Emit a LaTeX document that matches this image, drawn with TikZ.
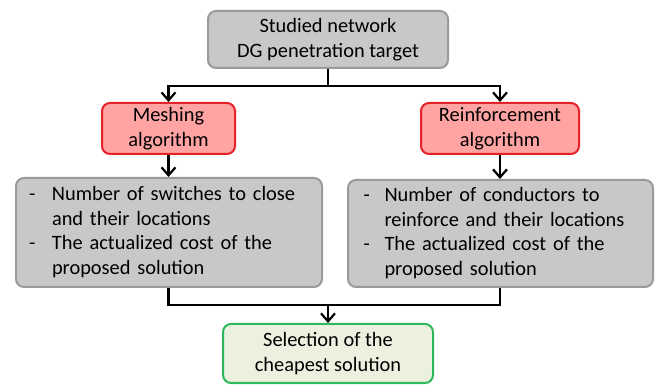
\documentclass[tikz,border=0pt]{standalone}
\usepackage{fontspec}
\setmainfont{Carlito}
\usetikzlibrary{arrows.meta}

\definecolor{boxgray}{HTML}{C8C8C8}
\definecolor{edgegray}{HTML}{9A9A9A}
\definecolor{algfill}{HTML}{FFA3A3}
\definecolor{algedge}{HTML}{E62229}
\definecolor{selfill}{HTML}{EBF1DE}
\definecolor{seledge}{HTML}{2EB85C}

\begin{document}
\begin{tikzpicture}[x=0.5pt, y=0.5pt,
  box/.style={draw, rounded corners=4pt, line width=1pt, inner sep=0pt,
    font=\fontsize{10.2}{12.4}\selectfont, align=center},
  graybox/.style={box, draw=edgegray, fill=boxgray},
  algbox/.style={box, draw=algedge, fill=algfill},
  selbox/.style={box, draw=seledge, fill=selfill},
  conn/.style={line width=1.3pt},
  arr/.style={conn, -{Straight Barb[length=4pt, width=7pt, line width=1.1pt]}}]

\useasboundingbox (0,0) rectangle (656,384);

% Input
\node[graybox, minimum width=120pt, minimum height=28.5pt] (input) at (328,344.5)
  {Studied network\\DG penetration target};

% Algorithms
\node[algbox, minimum width=66.5pt, minimum height=25.5pt] (mesh) at (168.5,255.5)
  {Meshing\\algorithm};
\node[algbox, minimum width=79pt, minimum height=25.5pt] (reinf) at (500,255.5)
  {Reinforcement\\algorithm};

% Results
\node[graybox, minimum width=153pt, minimum height=54.5pt, text width=140pt, align=left] (meshres) at (169,151.5)
  {\begin{tabular}{@{}p{11.5pt}@{}l@{}}
   - & Number of switches to close\\
     & and their locations\\
   - & The actualized cost of the\\
     & proposed solution
   \end{tabular}};
\node[graybox, minimum width=152.5pt, minimum height=53.5pt, text width=137pt, align=left] (reinfres) at (500.5,150.5)
  {\begin{tabular}{@{}p{10.5pt}@{}l@{}}
   - & Number of conductors to\\
     & reinforce and their locations\\
   - & The actualized cost of the\\
     & proposed solution
   \end{tabular}};

% Selection
\node[selbox, minimum width=105pt, minimum height=29.5pt] (select) at (328,30.5)
  {Selection of the\\cheapest solution};

% Split and merge points
\coordinate (split) at (328,298);
\coordinate (merge) at (328,79);

% Connectors
\draw[conn] (input.south) -- (split);
\draw[arr] (split) -| (mesh.north);
\draw[arr] (split) -| (reinf.north);
\draw[arr] (mesh.south) -- (mesh.south |- meshres.north);
\draw[arr] (reinf.south) -- (reinf.south |- reinfres.north);
\draw[conn] (mesh.south |- meshres.south) |- (merge);
\draw[conn] (reinf.south |- reinfres.south) |- (merge);
\draw[arr] (merge) -- (select.north);

\end{tikzpicture}
\end{document}
